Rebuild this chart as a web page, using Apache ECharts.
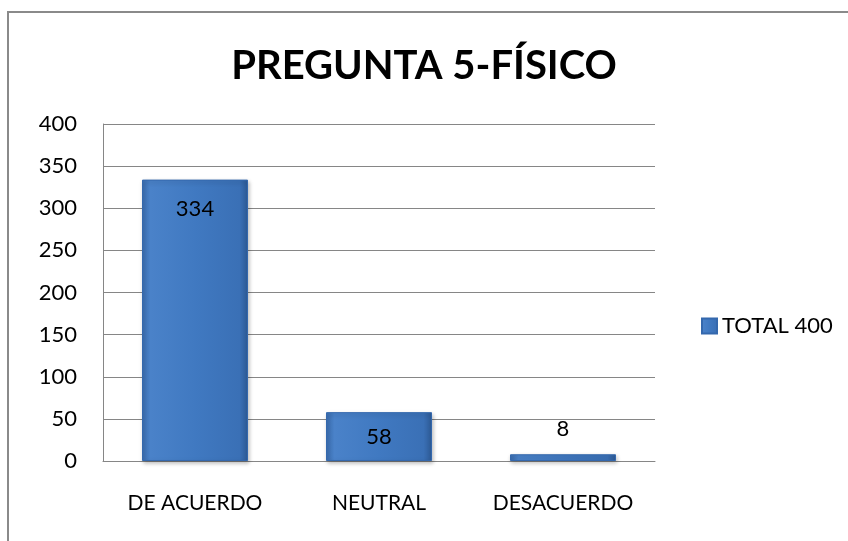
<!DOCTYPE html>
<html>
<head>
<meta charset="utf-8">
<script src="https://cdn.jsdelivr.net/npm/echarts@6/dist/echarts.min.js"></script>
<style>
  html, body { margin: 0; padding: 0; background: #fff; }
  #chart { width: 848px; height: 541px; }
</style>
</head>
<body>
<div id="chart"></div>
<script>
// datos
const categorias = ['DE ACUERDO', 'NEUTRAL', 'DESACUERDO'];
const valores = [334, 58, 8];
const serieNombre = 'TOTAL 400';
const titulo = 'PREGUNTA 5-FÍSICO';

const fuente = 'Lato, "Open Sans", sans-serif';

const chart = echarts.init(document.getElementById('chart'));

// posición de la etiqueta: dentro si la barra es alta, encima si es baja
const datos = valores.map(v => ({
  value: v,
  label: v > 30
    ? { position: 'insideTop', distance: v > 100 ? 18 : 14 }
    : { position: 'top', distance: 14 }
}));

const relleno = new echarts.graphic.LinearGradient(0, 0, 1, 0, [
  { offset: 0, color: '#3a6cae' },
  { offset: 0.08, color: '#4a82c9' },
  { offset: 0.5, color: '#4079c1' },
  { offset: 0.92, color: '#3a70b6' },
  { offset: 1, color: '#2d5a96' }
]);

const option = {
  animation: false,
  graphic: [{
    type: 'rect',
    shape: { x: 8, y: 12, width: 900, height: 600 },
    style: { fill: 'none', stroke: '#8a8a8a', lineWidth: 2 },
    silent: true
  }],
  title: {
    text: titulo,
    left: 'center',
    top: 41,
    textStyle: { fontFamily: fuente, fontSize: 40, fontWeight: 'bold', color: '#000' }
  },
  legend: {
    data: [serieNombre],
    left: 696,
    top: 310,
    itemWidth: 15,
    itemHeight: 15,
    itemGap: 9,
    icon: 'rect',
    textStyle: { fontFamily: fuente, fontSize: 22, color: '#000' }
  },
  grid: { left: 103, right: 193, top: 124, bottom: 80 },
  xAxis: {
    type: 'category',
    data: categorias,
    axisLine: { lineStyle: { color: '#868686', width: 1 } },
    axisTick: { show: false },
    axisLabel: { fontFamily: fuente, fontSize: 21, color: '#000', margin: 32 }
  },
  yAxis: {
    type: 'value',
    min: 0,
    max: 400,
    interval: 50,
    axisLine: { show: true, lineStyle: { color: '#868686', width: 1 } },
    axisTick: { show: false },
    splitLine: { lineStyle: { color: '#868686', width: 1 } },
    axisLabel: { fontFamily: fuente, fontSize: 22, color: '#000', margin: 26 }
  },
  series: [{
    name: serieNombre,
    type: 'bar',
    data: datos,
    barWidth: 106,
    itemStyle: {
      color: relleno,
      borderColor: '#3468ad',
      borderWidth: 1,
      shadowColor: 'rgba(0,0,0,0.25)',
      shadowBlur: 4,
      shadowOffsetX: 1,
      shadowOffsetY: 2
    },
    label: {
      show: true,
      fontFamily: fuente,
      fontSize: 22,
      color: '#000'
    }
  }]
};

chart.setOption(option);
</script>
</body>
</html>
